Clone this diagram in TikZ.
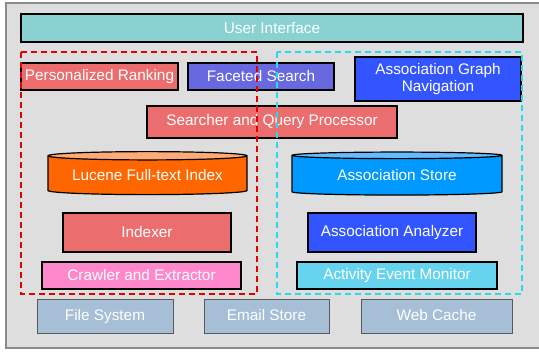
\documentclass[tikz,border=0pt]{standalone}
\usepackage{fontspec}
\setmainfont{Liberation Sans}
\usetikzlibrary{shapes.geometric}
\definecolor{panel}{HTML}{DEDEDE}
\definecolor{uicol}{HTML}{8AD2D2}
\definecolor{redcol}{HTML}{EC6D6D}
\definecolor{facetcol}{HTML}{6868E0}
\definecolor{bluecol}{HTML}{3355FF}
\definecolor{lucenecol}{HTML}{FF6600}
\definecolor{lucenetop}{HTML}{FFAA77}
\definecolor{storecol}{HTML}{0099FF}
\definecolor{storetop}{HTML}{66BBFF}
\definecolor{pinkcol}{HTML}{FF88CC}
\definecolor{monitorcol}{HTML}{66D4EE}
\definecolor{srccol}{HTML}{A6BED6}
\definecolor{dashcyan}{HTML}{22DDEE}
\begin{document}
\begin{tikzpicture}[x=0.75pt,y=-0.75pt,
  sz/.style 2 args={minimum width=#1*0.75pt, minimum height=#2*0.75pt},
  layer/.style={draw=black, line width=0.9pt, inner sep=0pt, outer sep=0pt,
    text=white, font=\fontsize{11.5}{13}\selectfont, align=center},
  source/.style={draw=black!65, line width=0.6pt, inner sep=0pt, outer sep=0pt,
    fill=srccol, text=white, font=\fontsize{11.5}{13}\selectfont,
    text height=8.5pt, text depth=2.5pt},
  db/.style={layer, shape=cylinder, shape border rotate=90, aspect=0.055,
    cylinder uses custom fill},
  group/.style={line width=1.1pt, dash pattern=on 4.5pt off 3pt}]
\useasboundingbox (0,0) rectangle (539,353);
\clip (0,0) rectangle (539,353);
\draw[draw=black!45, fill=panel, line width=0.8pt] (6,3) rectangle (560,348);

\node[layer, fill=uicol, sz={502}{28}] (ui) at (272,28) {User Interface};
\node[layer, fill=redcol, sz={157}{27}] (rank) at (99.5,76.5) {Personalized Ranking};
\node[layer, fill=facetcol, sz={146}{27}] (facet) at (261,76.5) {Faceted Search};
\node[layer, fill=bluecol, sz={166}{44}] (graph) at (438,79) {Association Graph\\Navigation};
\node[layer, fill=redcol, sz={250}{32}] (search) at (272,122) {Searcher and Query Processor};
\node[db, cylinder body fill=lucenecol, cylinder end fill=lucenetop, sz={199}{43}] (lucene) at (147.5,175.5) {Lucene Full-text Index};
\node[db, cylinder body fill=storecol, cylinder end fill=storetop, sz={210}{43}] (store) at (397,175.5) {Association Store};
\node[layer, fill=redcol, sz={168}{39}] (indexer) at (147,232.5) {Indexer};
\node[layer, fill=pinkcol, sz={199}{27}] (crawler) at (141.5,275.5) {Crawler and Extractor};
\node[layer, fill=bluecol, sz={168}{39}] (analyzer) at (392,232.5) {Association Analyzer};
\node[layer, fill=monitorcol, sz={200}{27}] (monitor) at (397,275.5) {Activity Event Monitor};
\node[source, sz={136}{34}] (files) at (105,316) {File System};
\node[source, sz={125}{34}] (email) at (266.5,316) {Email Store};
\node[source, sz={151}{34}] (web) at (436.5,316) {Web Cache};

% groups
\draw[group, draw=red!90!black] (21,52) rectangle (257,294);
\draw[group, draw=dashcyan] (277,52) rectangle (522,294);
\end{tikzpicture}
\end{document}
